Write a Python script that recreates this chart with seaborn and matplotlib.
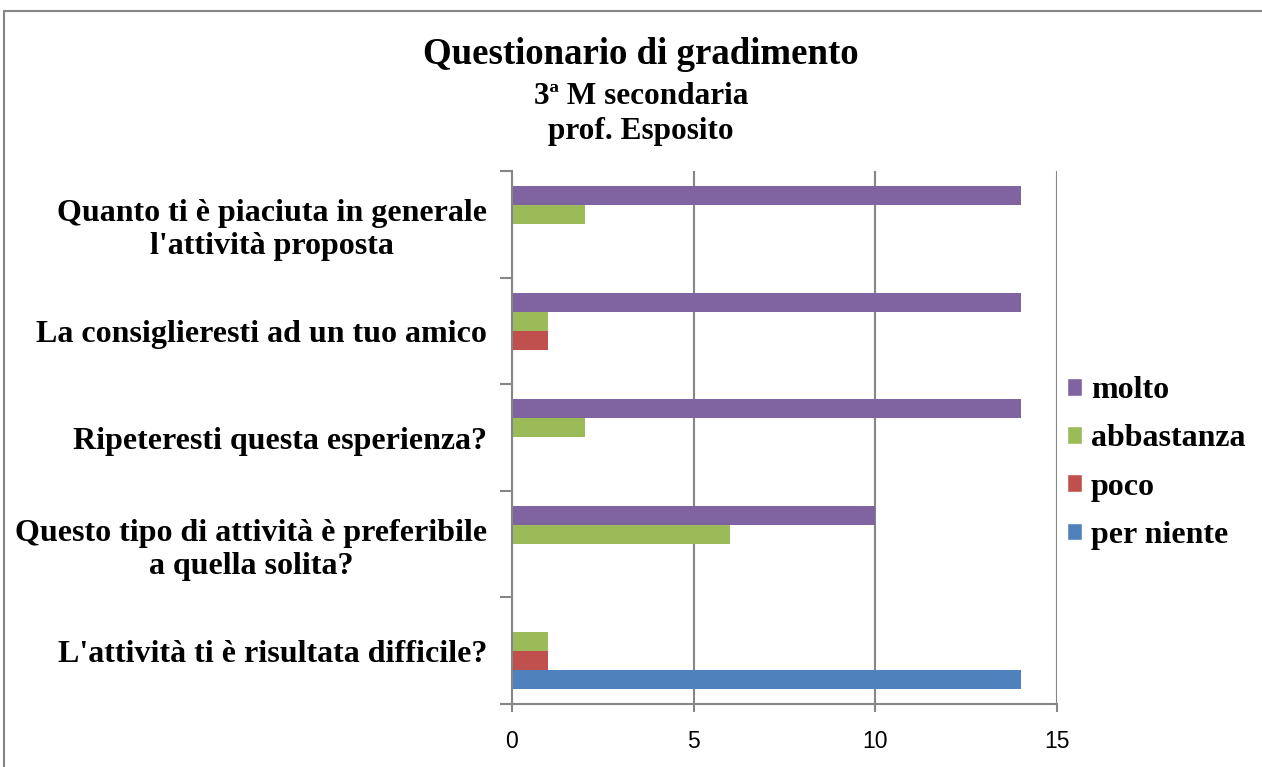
import pandas as pd
import seaborn as sns
import matplotlib.pyplot as plt
from matplotlib.patches import Patch, Rectangle

questions = [
    "Quanto ti è piaciuta in generale\nl'attività proposta",
    "La consiglieresti ad un tuo amico",
    "Ripeteresti questa esperienza?",
    "Questo tipo di attività è preferibile\na quella solita?",
    "L'attività ti è risultata difficile?",
]
series = ["molto", "abbastanza", "poco", "per niente"]
molto = [14, 14, 14, 10, 0]
abbastanza = [2, 1, 2, 6, 1]
poco = [0, 1, 0, 0, 1]
per_niente = [0, 0, 0, 0, 14]
colors = {"molto": "#8064A2", "abbastanza": "#9BBB59", "poco": "#C0504D", "per niente": "#4F81BD"}
x_ticks = [0, 5, 10, 15]

rows = []
for name, vals in zip(series, [molto, abbastanza, poco, per_niente]):
    for q, v in zip(questions, vals):
        rows.append({"domanda": q, "risposta": name, "valore": v})
df = pd.DataFrame(rows)

sns.set_style("white")
plt.rcParams["font.family"] = ["Liberation Serif", "DejaVu Serif"]
plt.rcParams["text.color"] = "black"
plt.rcParams["xtick.color"] = "black"
plt.rcParams["ytick.color"] = "black"

fig = plt.figure(figsize=(12.62, 7.67), dpi=100)
ax = fig.add_axes([512 / 1262, 63 / 767, 545 / 1262, 533 / 767])

sns.barplot(data=df, y="domanda", x="valore", hue="risposta", order=questions,
            hue_order=series, palette=colors, orient="h", width=0.713, gap=0,
            saturation=1, legend=False, linewidth=0, ax=ax)

gray = "#868686"
ax.set_xlim(0, 15)
ax.set_ylim(4.5, -0.5)
ax.set_xticks(x_ticks)
ax.set_xticklabels([str(t) for t in x_ticks], fontfamily="Liberation Sans", fontsize=16.5)
ax.grid(axis="x", color=gray, linewidth=1.5)
ax.set_axisbelow(True)
for s in ["top", "right"]:
    ax.spines[s].set_visible(False)
for s in ["left", "bottom"]:
    ax.spines[s].set_color(gray)
    ax.spines[s].set_linewidth(1.5)
ax.set_xlabel("")
ax.set_ylabel("")
ax.set_yticks(range(len(questions)))
ax.set_yticklabels(questions, fontsize=23, fontweight="bold", ha="right",
                   multialignment="center", linespacing=1.2)
ax.set_yticks([i - 0.5 for i in range(len(questions) + 1)], minor=True)
ax.tick_params(axis="y", which="major", left=True, length=0, pad=18)
ax.tick_params(axis="y", which="minor", left=True, length=9, width=1.5, color=gray, direction="out")
ax.tick_params(axis="x", which="major", bottom=True, length=6, width=1.5, color=gray,
               labelcolor="black", direction="out", pad=13)

fig.text(641 / 1262, 1 - 55 / 767, "Questionario di gradimento", ha="center", va="center",
         fontsize=26.6, fontweight="bold")
fig.text(641 / 1262, 1 - 97 / 767, "3ª M secondaria", ha="center", va="center",
         fontsize=22.5, fontweight="bold")
fig.text(641 / 1262, 1 - 131 / 767, "prof. Esposito", ha="center", va="center",
         fontsize=22.5, fontweight="bold")

handles = [Patch(facecolor=colors[s], label=s) for s in series]
fig.legend(handles=handles, loc="center left", bbox_to_anchor=(1067 / 1262, 1 - 463 / 767),
           frameon=False, prop={"weight": "bold", "size": 23},
           handlelength=0.47, handleheight=0.47, handletextpad=0.27,
           labelspacing=0.6, borderpad=0, borderaxespad=0)

fig.patches.append(Rectangle((4 / 1262, -0.1), 1.2, 1 - 11 / 767 + 0.1,
                             transform=fig.transFigure, fill=False,
                             edgecolor=gray, linewidth=1.5))

fig.savefig("out.png", dpi=100)
